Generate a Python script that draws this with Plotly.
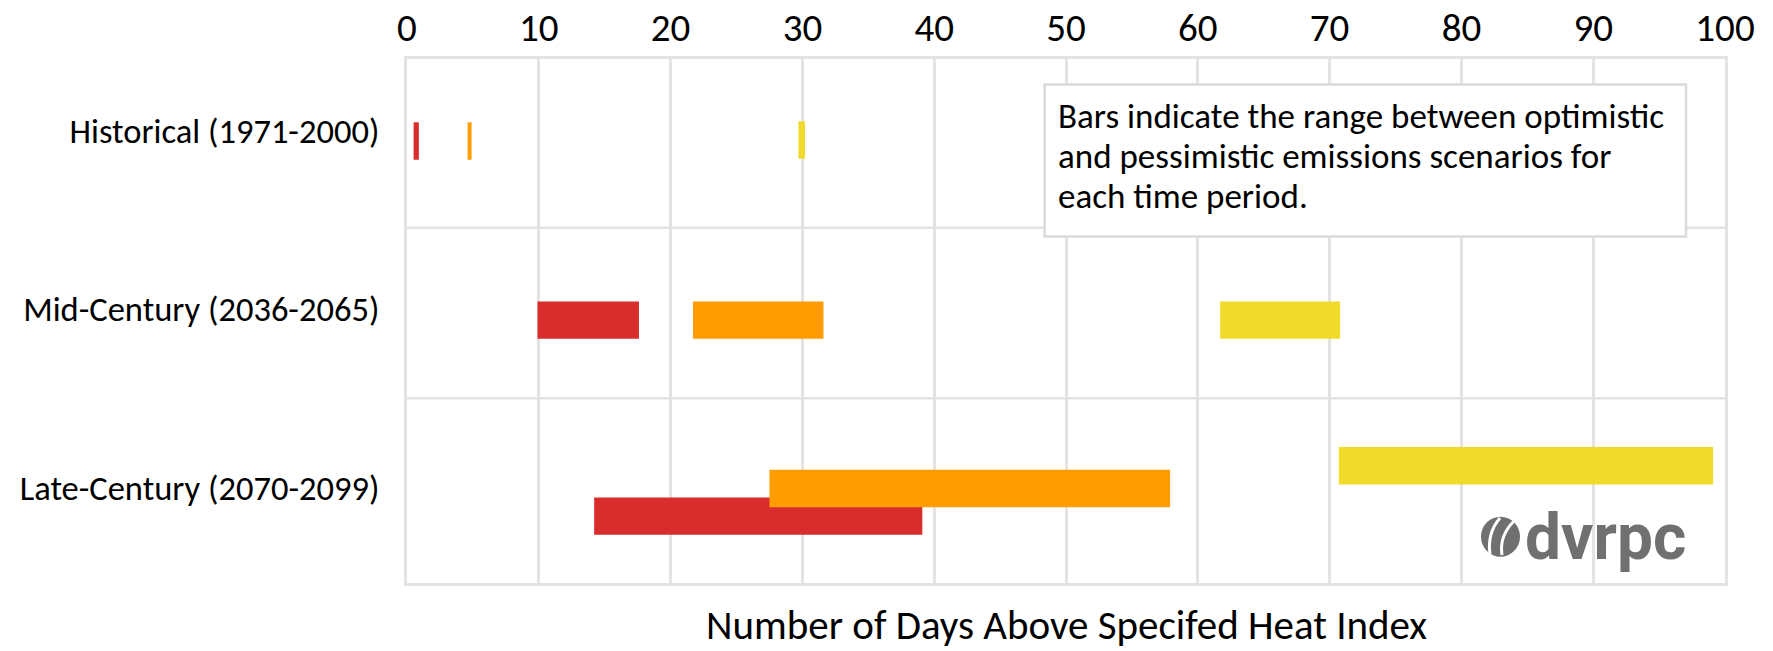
import plotly.graph_objects as go

# ---- data ----
categories = ["Historical (1971-2000)", "Mid-Century (2036-2065)", "Late-Century (2070-2099)"]
red_low = [0.5, 9.9, 14.2]
red_high = [0.9, 17.6, 39.1]
orange_low = [4.6, 21.7, 27.5]
orange_high = [4.9, 31.6, 57.9]
yellow_low = [29.7, 61.7, 70.7]
yellow_high = [30.2, 70.8, 99.1]
x_ticks = [0, 10, 20, 30, 40, 50, 60, 70, 80, 90, 100]
x_title = "Number of Days Above Specifed Heat Index"
note_lines = ["Bars indicate the range between optimistic",
              "and pessimistic emissions scenarios for",
              "each time period."]

# ---- styles ----
FONT = "Carlito, Lato, 'Open Sans', sans-serif"
GRID = "#E3E3E3"
W, H = 1773, 651
ML, MR, MT, MB = 407, 48, 59, 68
PW, PH = W - ML - MR, H - MT - MB


def px(xp):
    return (xp - ML) / PW


def py(yp):
    return (H - MB - yp) / PH


series = [
    ("Series 1", red_low, red_high, "#D92D2D", [-0.049, -0.045, 0.054]),
    ("Series 2", orange_low, orange_high, "#FF9C00", [-0.049, -0.045, -0.101]),
    ("Series 3", yellow_low, yellow_high, "#F0DB2B", [-0.055, -0.045, -0.228]),
]

fig = go.Figure()
for name, lo, hi, color, off in series:
    fig.add_trace(go.Bar(
        name=name,
        y=categories,
        base=lo,
        x=[h - l for l, h in zip(lo, hi)],
        orientation="h",
        marker=dict(color=color, line=dict(width=0)),
        width=0.21,
        offset=off,
        showlegend=False,
    ))

# horizontal separators between category bands
for sep_px in [227.7, 398.3]:
    fig.add_shape(type="line", xref="paper", yref="paper", x0=0, x1=1,
                  y0=py(sep_px), y1=py(sep_px),
                  line=dict(color=GRID, width=2.5), layer="below")

fig.update_layout(
    width=W, height=H, autosize=False,
    margin=dict(l=ML, r=MR, t=MT, b=MB, pad=0, autoexpand=False),
    paper_bgcolor="white", plot_bgcolor="white",
    barmode="overlay",
    font=dict(family=FONT, color="#000000"),
    xaxis=dict(
        side="top", range=[0, 100], tickvals=x_ticks, automargin=False,
        showgrid=True, gridcolor=GRID, gridwidth=2.5,
        showline=True, linecolor=GRID, linewidth=2.5, mirror=True,
        zeroline=False, ticks="", tickfont=dict(size=39, family=FONT),
        ticklabelstandoff=0, fixedrange=True,
    ),
    yaxis=dict(
        type="category", categoryorder="array", categoryarray=categories,
        range=[2.534, -0.404], showgrid=False, automargin=False,
        showline=True, linecolor=GRID, linewidth=2.5, mirror=True,
        zeroline=False, ticks="", tickfont=dict(size=34.5, family=FONT),
        ticklabelstandoff=18, fixedrange=True,
    ),
)

# note box
fig.add_shape(type="rect", xref="paper", yref="paper",
              x0=px(1044.6), x1=px(1686), y0=py(236.5), y1=py(84.5),
              fillcolor="white", line=dict(color="#DADADA", width=2.5),
              layer="above")
for i, line in enumerate(note_lines):
    fig.add_annotation(
        xref="paper", yref="paper", x=px(1056), y=py(116.5 + 39.5 * i),
        xanchor="left", yanchor="middle", align="left", showarrow=False,
        text=line, font=dict(size=35, family=FONT, color="#000000"),
    )

# axis title (placed at bottom)
fig.add_annotation(
    xref="paper", yref="paper", x=0.5, y=py(625), xanchor="center",
    yanchor="middle", showarrow=False, text=x_title,
    font=dict(size=41, family=FONT, color="#000000"),
)

# dvrpc logo
LOGO = "#707070"
fig.add_shape(type="circle", xref="paper", yref="paper",
              x0=px(1481), x1=px(1520), y0=py(556.7), y1=py(516.7),
              fillcolor=LOGO, line=dict(width=0), layer="above")
for (sx, sy), (cx, cy), (ex, ey) in [
    ((1500, 518), (1487, 533), (1490, 554)),
    ((1514, 521), (1499, 536), (1502, 555)),
]:
    fig.add_shape(type="path", xref="paper", yref="paper",
                  path=f"M {px(sx)},{py(sy)} Q {px(cx)},{py(cy)} {px(ex)},{py(ey)}",
                  line=dict(color="white", width=3), layer="above")
fig.add_annotation(
    xref="paper", yref="paper", x=px(1523), y=py(537), xanchor="left",
    yanchor="middle", showarrow=False, text="<b>dvrpc</b>",
    font=dict(size=64, family="Roboto, 'DejaVu Sans', sans-serif", color=LOGO),
)

fig.write_html("out.html", config={"displayModeBar": False},
               post_script="document.body.style.margin='0px';")
